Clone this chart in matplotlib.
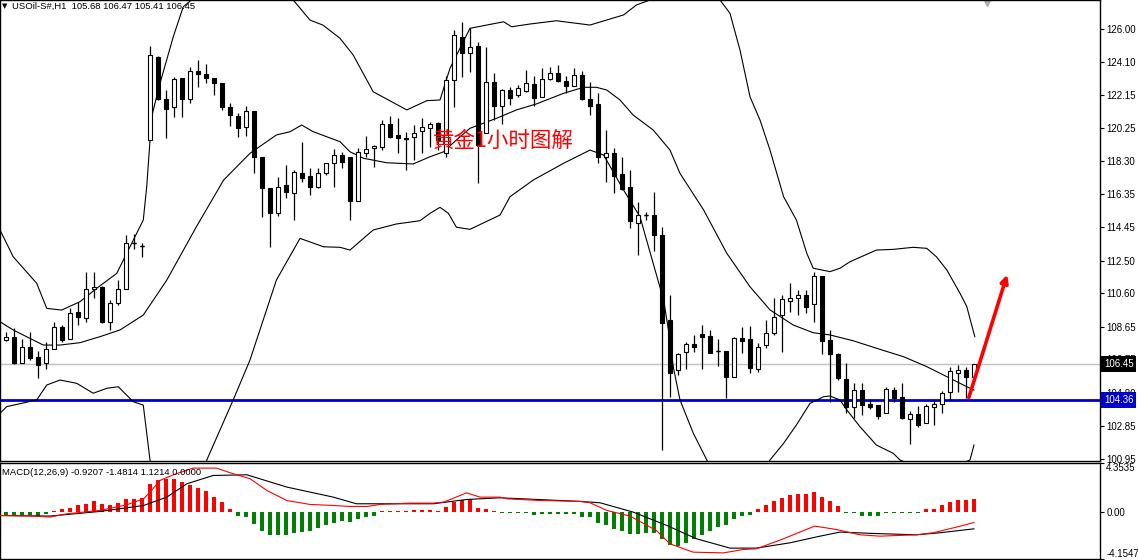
import matplotlib
matplotlib.use('Agg')
import matplotlib.pyplot as plt
import matplotlib.transforms as mtransforms
from matplotlib.patches import FancyArrowPatch
import numpy as np

plt.rcParams['font.family'] = ['Liberation Sans', 'DejaVu Sans']

# USOil-S#, H1 candles
opens = [107.87, 108.06, 106.51, 107.47, 106.86, 106.51, 107.32, 108.64, 107.91, 109.48,
         109.13, 110.82, 110.94, 108.93, 110.00, 110.82, 113.50, 113.35, 119.53, 124.38,
         121.90, 121.43, 123.12, 121.90, 123.55, 123.38, 123.12, 122.83, 121.43, 120.93,
         120.27, 121.22, 118.55, 116.71, 115.25, 116.90, 116.45, 117.62, 117.43, 116.80,
         117.62, 118.20, 118.65, 118.55, 115.99, 118.79, 119.04, 119.10, 120.46, 119.82,
         119.64, 119.68, 120.05, 120.21, 120.50, 118.75, 123.03, 125.55, 124.58, 125.01,
         119.92, 122.93, 121.51, 122.44, 122.15, 122.40, 122.77, 122.02, 123.07, 123.42,
         122.97, 122.68, 123.32, 121.90, 121.63, 118.55, 118.75, 117.54, 116.77, 114.70,
         115.15, 115.15, 113.99, 109.03, 106.12, 107.18, 107.63, 108.22, 108.10, 107.22,
         107.22, 105.69, 107.96, 107.91, 106.16, 107.57, 108.29, 109.32, 110.16, 110.30,
         110.49, 109.96, 111.60, 107.87, 107.05, 105.57, 103.94, 104.95, 104.13, 104.07,
         103.63, 104.95, 104.56, 103.24, 103.55, 103.01, 103.94, 104.13, 104.85, 105.96,
         106.12, 105.68]
highs = [108.33, 108.55, 107.90, 108.31, 107.24, 107.77, 108.90, 108.74, 109.71, 110.10,
         111.85, 111.81, 111.01, 110.20, 111.36, 113.99, 114.03, 113.54, 125.01, 124.42,
         122.44, 123.18, 123.12, 123.80, 124.19, 123.96, 123.12, 122.83, 121.70, 121.08,
         121.51, 121.22, 118.55, 116.71, 117.39, 118.07, 117.78, 119.43, 117.88, 117.88,
         118.20, 118.98, 118.80, 118.55, 119.04, 119.76, 119.23, 120.69, 120.93, 120.79,
         120.01, 120.40, 120.79, 120.59, 120.59, 123.26, 125.94, 126.43, 126.04, 125.26,
         124.97, 123.42, 122.48, 122.60, 122.73, 123.61, 123.26, 123.71, 123.80, 123.90,
         123.26, 123.71, 123.57, 122.93, 122.25, 120.11, 119.04, 118.55, 117.78, 115.93,
         115.33, 116.51, 114.47, 110.49, 107.12, 107.77, 108.16, 108.74, 108.45, 107.91,
         107.22, 108.02, 108.61, 108.68, 107.67, 109.03, 110.30, 110.49, 111.21, 110.78,
         110.78, 111.85, 111.60, 108.45, 107.09, 106.54, 105.38, 105.34, 104.41, 104.07,
         105.11, 105.12, 105.34, 103.74, 104.03, 104.13, 104.37, 104.91, 106.27, 106.41,
         106.31, 106.47]
lows = [107.81, 106.47, 106.51, 106.70, 105.63, 106.16, 107.32, 107.77, 107.91, 108.74,
        108.93, 110.30, 108.87, 108.45, 109.91, 110.82, 113.15, 112.72, 119.53, 121.86,
        119.63, 120.89, 120.89, 121.70, 122.63, 122.87, 122.15, 121.28, 120.34, 119.72,
        119.76, 117.58, 115.05, 113.30, 115.10, 116.13, 114.86, 117.10, 116.32, 116.75,
        117.49, 116.80, 117.88, 114.86, 115.99, 118.55, 117.97, 118.94, 119.63, 118.75,
        117.78, 118.36, 118.79, 119.14, 118.94, 118.55, 121.47, 123.22, 123.51, 117.04,
        119.92, 120.69, 120.46, 121.57, 122.02, 122.34, 121.51, 122.02, 123.03, 122.93,
        122.25, 122.68, 121.86, 120.98, 118.17, 117.10, 116.42, 116.61, 114.38, 112.82,
        114.86, 113.07, 101.45, 104.56, 105.82, 106.16, 107.18, 106.16, 107.09, 106.35,
        104.47, 105.69, 107.09, 105.96, 106.02, 107.38, 108.16, 107.18, 109.51, 109.32,
        109.46, 108.93, 107.05, 104.27, 105.53, 103.63, 103.30, 103.49, 103.82, 103.24,
        103.63, 104.27, 103.24, 101.82, 102.81, 103.01, 102.91, 103.63, 104.37, 104.85,
        104.47, 105.41]
closes = [108.04, 106.51, 107.47, 106.80, 106.41, 107.32, 108.64, 107.87, 109.42, 109.19,
          110.82, 110.97, 108.93, 110.00, 110.82, 113.54, 113.50, 113.35, 124.48, 121.90,
          121.32, 123.07, 121.90, 123.55, 123.38, 123.12, 122.83, 121.43, 120.98, 120.21,
          121.22, 118.55, 116.71, 115.25, 116.77, 116.51, 117.68, 117.29, 116.80, 117.58,
          118.17, 118.65, 118.26, 115.99, 118.84, 118.98, 119.18, 120.46, 119.72, 119.63,
          119.61, 119.95, 120.27, 120.44, 119.53, 123.03, 125.65, 124.62, 124.97, 119.24,
          122.93, 121.51, 122.44, 121.99, 122.54, 122.83, 121.99, 123.07, 123.42, 122.98,
          122.68, 123.32, 121.90, 121.51, 118.55, 118.75, 117.43, 116.65, 114.82, 115.15,
          115.15, 113.99, 108.87, 105.96, 107.05, 107.63, 107.44, 108.02, 107.12, 107.22,
          105.69, 107.96, 107.82, 106.21, 107.47, 108.26, 109.19, 110.24, 110.30, 110.49,
          109.81, 111.60, 107.82, 107.05, 105.63, 103.94, 104.95, 104.07, 103.94, 103.43,
          104.99, 104.47, 103.30, 103.55, 102.91, 104.02, 104.13, 104.79, 106.08, 106.12,
          105.73, 106.45]

# Bollinger bands, read as (bar index, price) points
bb_up_x = [-0.75, 0.9, 3.84, 5.09, 6.96, 9.25, 11.34, 13.84, 15.09, 17.16, 17.59, 18.21, 19.25,
           20.91, 22.16, 29.25, 35.9, 38.0, 39.6, 41.75, 43.4, 45.9, 50.1, 52.6, 54.25, 55.5,
           58.0, 60.1, 62.2, 63.2, 65.5, 68.8, 73.0, 77.2, 78.8, 80.5, 84.9, 89.25, 90.5, 91.75,
           93.0, 94.25, 95.5, 97.2, 98.8, 100.1, 100.9, 103.0, 104.25, 105.5, 108.8, 110.9,
           113.4, 115.1, 116.3, 117.6, 119.25, 120.1, 121.1]
bb_up_y = [114.28, 112.72, 111.17, 109.71, 109.61, 110.10, 110.88, 111.75, 112.92, 114.86, 116.80,
           120.89, 122.83, 125.55, 127.30, 130.0, 127.69, 126.52, 126.23, 125.46, 124.48, 122.34,
           121.28, 121.82, 121.86, 123.71, 126.04, 126.23, 126.42, 126.13, 126.29, 126.48, 126.23,
           126.82, 127.40, 127.69, 129.15, 127.69, 126.91, 124.77, 122.05, 120.69, 118.94, 116.22,
           114.86, 112.92, 112.05, 111.85, 112.05, 112.43, 113.11, 113.15, 113.27, 113.21, 112.72,
           111.95, 110.59, 109.81, 108.06]
bb_mid_x = [-0.75, 0.9, 4.66, 6.75, 9.25, 11.75, 14.25, 17.16, 20.1, 23.8, 27.2, 30.5, 33.8, 35.5,
            36.96, 38.4, 41.75, 43.0, 44.7, 47.6, 50.9, 53.0, 54.7, 56.3, 58.0, 61.3, 63.8, 66.3,
            69.7, 72.2, 73.8, 75.1, 76.75, 78.4, 80.9, 83.0, 84.25, 87.2, 90.1, 93.0, 95.5, 98.4,
            100.9, 103.0, 105.9, 109.25, 112.2, 115.1, 117.6, 120.1, 121.0]
bb_mid_y = [108.93, 108.45, 107.57, 107.57, 107.71, 108.06, 108.45, 109.32, 111.36, 114.47, 117.19,
            118.75, 119.82, 120.01, 120.40, 120.01, 119.43, 118.84, 118.46, 118.20, 118.13, 118.55,
            118.84, 119.53, 120.21, 120.79, 121.28, 121.63, 122.25, 122.60, 122.60, 122.44, 121.86,
            120.98, 120.11, 118.94, 117.58, 115.45, 112.92, 110.97, 109.62, 108.74, 108.29, 108.16,
            107.82, 107.32, 106.89, 106.31, 105.73, 105.14, 104.95]
bb_low_x = [-0.75, 0.09, 3.84, 5.09, 6.75, 8.84, 10.9, 12.6, 14.04, 15.9, 17.16, 18.0, 21.75, 25.1,
            28.4, 30.5, 33.8, 36.75, 39.7, 41.75, 43.0, 45.9, 48.8, 51.75, 53.0, 54.25, 55.3, 56.3,
            58.0, 61.75, 63.0, 65.9, 69.7, 73.0, 74.7, 77.2, 79.25, 80.9, 82.2, 83.0, 83.4, 84.25,
            85.9, 87.6, 91.75, 95.5, 97.2, 98.8, 100.5, 102.2, 103.0, 104.25, 105.1, 106.75, 108.8,
            110.9, 111.75, 116.1, 120.5, 121.0]
bb_low_y = [103.59, 103.98, 104.37, 105.24, 105.53, 105.34, 104.76, 105.05, 105.14, 104.27, 104.07,
            100.87, 97.4, 100.87, 104.37, 106.70, 111.36, 113.79, 113.30, 113.27, 113.11, 114.28,
            114.63, 114.82, 115.25, 115.60, 115.25, 114.44, 114.32, 115.15, 116.22, 117.19, 118.17,
            118.94, 118.65, 116.61, 115.05, 112.33, 110.20, 107.87, 106.31, 104.37, 102.44, 100.87,
            97.4, 100.87, 101.84, 102.91, 104.17, 104.56, 104.60, 104.37, 103.79, 102.81, 101.74,
            101.26, 100.87, 100.0, 100.87, 101.74]

# MACD(12,26,9) histogram and the two lines
macd_hist = [-0.24, -0.24, -0.24, -0.24, -0.30, -0.18, 0.10, 0.24, 0.35, 0.59,
             0.74, 0.95, 0.74, 0.65, 0.80, 1.12, 1.18, 1.24, 2.51, 2.81,
             2.90, 2.96, 2.66, 2.42, 2.13, 1.83, 1.33, 0.89, 0.30, -0.30,
             -0.47, -1.03, -1.63, -2.07, -2.07, -2.07, -1.83, -1.72, -1.63, -1.42,
             -1.18, -0.95, -0.77, -0.89, -0.65, -0.44, -0.30, 0.10, 0.10, 0.10,
             0.10, 0.20, 0.20, 0.20, 0.10, 0.44, 0.89, 1.03, 1.18, 0.35,
             0.30, 0.10, -0.12, -0.12, -0.12, -0.12, -0.24, -0.18, -0.18, -0.18,
             -0.18, -0.18, -0.41, -0.47, -0.95, -1.18, -1.48, -1.63, -1.92, -1.92,
             -1.83, -1.83, -2.36, -2.90, -3.01, -2.72, -2.42, -2.01, -1.63, -1.33,
             -1.18, -0.65, -0.30, -0.24, 0.24, 0.59, 0.95, 1.24, 1.48, 1.63,
             1.63, 1.77, 1.33, 1.00, 0.53, -0.10, -0.12, -0.30, -0.35, -0.30,
             -0.12, -0.10, -0.10, -0.10, -0.10, 0.24, 0.30, 0.59, 0.89, 1.03,
             1.10, 1.12]
dif_x = [-0.75, 3.4, 5.5, 7.6, 11.75, 15.1, 17.2, 18.0, 19.25, 20.9, 23.4, 26.3, 28.4, 30.5, 32.6,
         35.1, 38.0, 40.9, 43.0, 45.1, 46.75, 50.5, 53.4, 54.7, 57.6, 59.25, 61.75, 62.6, 66.75,
         71.75, 73.0, 75.1, 78.0, 81.3, 83.0, 85.9, 89.7, 92.2, 93.8, 97.2, 99.7, 101.1, 103.8,
         106.75, 109.25, 113.8, 115.9, 118.8, 121.0]
dif_y = [-0.30, -0.35, -0.44, -0.15, 0.15, 0.65, 1.18, 1.77, 2.81, 3.31, 3.90, 3.90, 3.40, 2.96, 1.92,
         1.03, 0.68, 0.59, 0.50, 0.50, 0.68, 0.80, 0.80, 0.89, 1.71, 1.33, 1.33, 1.18, 1.03,
         0.95, 0.83, 0.15, -0.35, -1.63, -2.81, -3.55, -3.61, -3.31, -3.25, -2.36, -1.63, -1.24,
         -1.54, -2.01, -2.13, -2.01, -1.83, -1.33, -0.92]
dea_x = [-0.75, 5.5, 11.75, 17.2, 20.1, 22.6, 25.9, 30.1, 35.1, 40.9, 43.8, 53.4, 57.6, 61.75, 71.75,
         74.25, 78.4, 82.6, 86.3, 90.5, 93.8, 98.0, 101.75, 104.25, 108.4, 113.8, 116.75, 121.0]
dea_y = [-0.30, -0.35, 0.06, 0.59, 1.33, 2.51, 3.25, 3.31, 2.22, 1.33, 0.74, 0.74, 1.12, 1.27, 0.95,
         0.83, 0.0, -1.18, -2.36, -3.19, -3.19, -2.72, -2.13, -1.77, -1.89, -2.01, -1.83, -1.48]

price_ticks = [126.00, 124.10, 122.15, 120.25, 118.30, 116.35, 114.45, 112.50,
               110.60, 108.65, 106.75, 104.80, 102.85, 100.95]
bid = 106.45
support = 104.36

o = np.array(opens); h = np.array(highs); l = np.array(lows); c = np.array(closes)
idx = np.arange(len(o))

W, H = 1138, 560
fig = plt.figure(figsize=(W / 100, H / 100), dpi=100)
ax = fig.add_axes([0, 99 / H, 1100 / W, 461 / H])
axm = fig.add_axes([0, 1 / H, 1100 / W, 96 / H])

for a in (ax, axm):
    a.set_xlim(-0.75, 136.75)
    a.set_xticks([])
    for s in a.spines.values():
        s.set_color('black')
        s.set_linewidth(1)
    a.yaxis.tick_right()
    a.tick_params(axis='y', length=3, width=0.8, labelsize=7, pad=1.5, colors='black')

# main price panel
ax.set_ylim(100.81, 127.69)
ax.axhline(bid, color='#c0c0c0', lw=1, zorder=1)
ax.axhline(support, color='#0000cc', lw=2, zorder=1)

ax.plot(bb_up_x, bb_up_y, color='black', lw=0.8, zorder=2)
ax.plot(bb_mid_x, bb_mid_y, color='black', lw=0.8, zorder=2)
ax.plot(bb_low_x, bb_low_y, color='black', lw=0.8, zorder=2)

ax.vlines(idx, l, h, color='black', lw=0.9, zorder=3)
up = c >= o
ax.bar(idx, np.abs(c - o), bottom=np.minimum(o, c), width=0.5,
       color=np.where(up, 'white', 'black'), edgecolor='black', linewidth=0.8, zorder=4)
doji = np.abs(c - o) < 0.05
ax.hlines(c[doji], idx[doji] - 0.3, idx[doji] + 0.3, color='black', lw=1, zorder=4)

ax.set_yticks(price_ticks)
ax.set_yticklabels([f'{t:.2f}' for t in price_ticks])

trans = mtransforms.blended_transform_factory(ax.transAxes, ax.transData)
for val, bg in ((bid, 'black'), (support, '#0000cc')):
    ax.text(1.0035, val, f'{val:.2f}', transform=trans, ha='left', va='center', fontsize=7,
            color='white', bbox=dict(boxstyle='square,pad=0.3', fc=bg, ec='none'),
            clip_on=False, zorder=10)

ax.text(0.002, 1 - 6 / 461, '\u25bc', transform=ax.transAxes, fontsize=5, va='center', ha='left',
        family='DejaVu Sans')
ax.text(12 / 1100, 1 - 6 / 461, 'USOil-S#,H1  105.68 106.47 105.41 106.45',
        transform=ax.transAxes, fontsize=6.8, va='center', ha='left')
ax.plot([987 / 1100], [1 - 3 / 461], marker='v', color='#b0b0b0', ms=4,
        transform=ax.transAxes, clip_on=False)

ax.text(53.4, 119.47, '黄金1小时图解', color='red', fontsize=15.5,
        family=['Noto Sans CJK SC', 'DejaVu Sans'], va='center', ha='left', zorder=6)

arrow = FancyArrowPatch((120.25, support), (125.25, 111.83), arrowstyle='-|>',
                        mutation_scale=11, lw=2.6, color='red', zorder=7)
ax.add_patch(arrow)

# MACD panel
axm.set_ylim(-4.1547, 4.3535)
axm.bar(idx, macd_hist, width=0.4, color=['#ff0000' if v >= 0 else '#008000' for v in macd_hist],
        zorder=2)
axm.plot(dea_x, dea_y, color='black', lw=0.8, zorder=3)
axm.plot(dif_x, dif_y, color='red', lw=0.8, zorder=3)
axm.set_yticks([4.3535, 0.0, -4.1547])
axm.set_yticklabels(['4.3535', '0.00', '-4.1547'])
lbls = axm.get_yticklabels()
lbls[0].set_va('top')
lbls[2].set_va('bottom')
axm.text(0.002, 0.905, 'MACD(12,26,9) -0.9207 -1.4814 1.1214 0.0000', transform=axm.transAxes,
         fontsize=6.8, va='center', ha='left', zorder=5)

fig.savefig('out.png', dpi=100)
